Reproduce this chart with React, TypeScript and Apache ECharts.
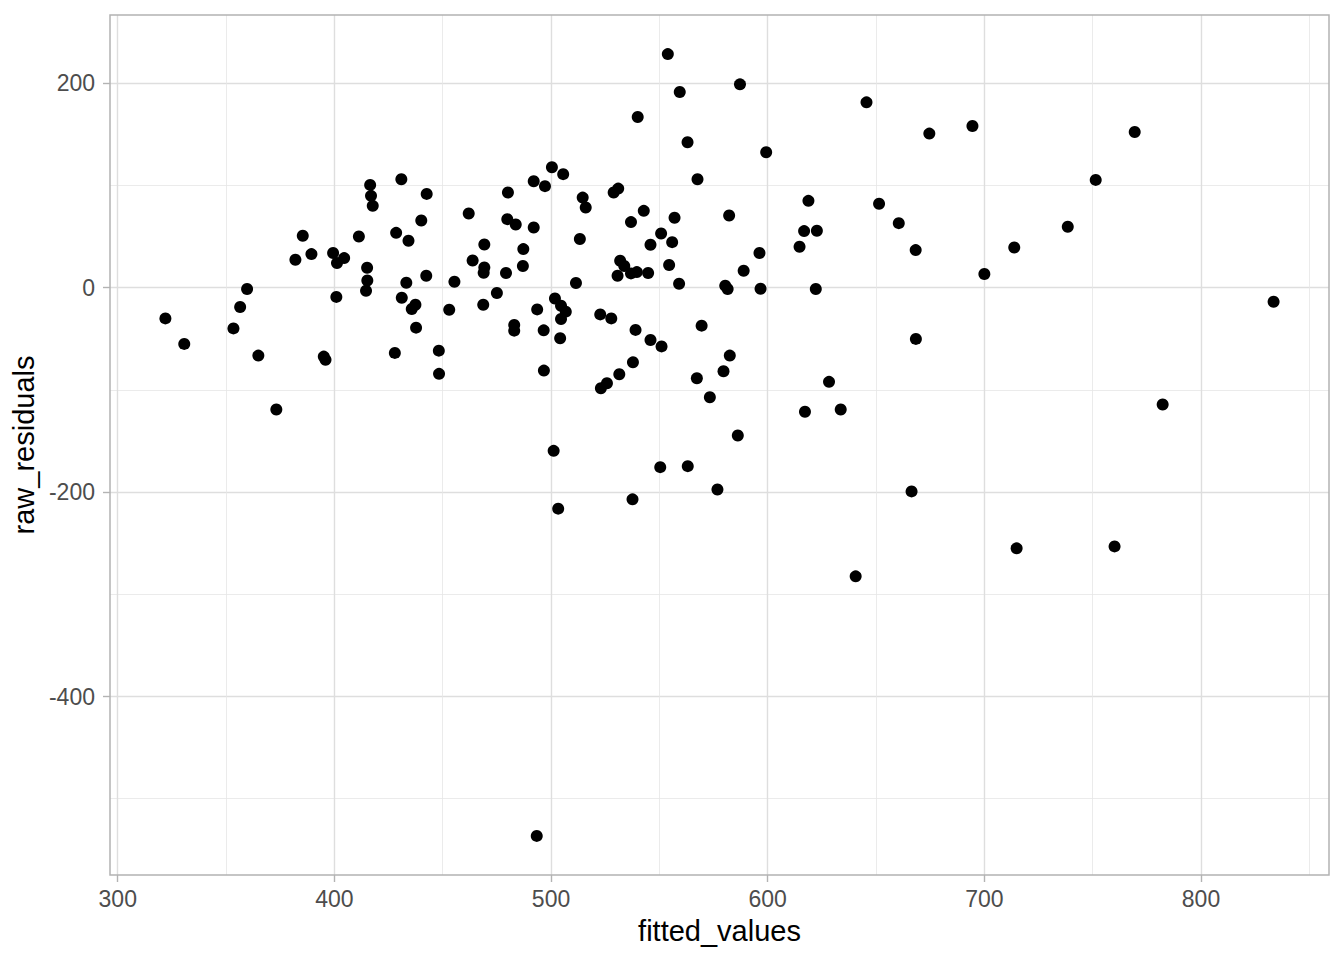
import React, { useEffect, useRef } from "react";
import * as echarts from "echarts";

const fittedValues = [
  322.0, 330.7, 353.4, 356.5, 359.7, 364.9, 373.2, 382.0, 385.4, 389.4,
  395.1, 395.9, 399.4, 400.9, 401.2, 404.5, 411.3, 414.6, 415.1, 415.2,
  416.5, 416.9, 417.7, 427.9, 428.5, 430.9, 431.1, 433.2, 434.2, 435.7,
  437.4, 437.7, 440.1, 442.4, 442.6, 448.2, 448.3, 453.0, 455.4, 462.0,
  463.8, 468.7, 469.2, 469.2, 468.9, 475.0, 479.2, 480.1, 479.8, 483.7,
  483.0, 483.0, 487.0, 487.2, 492.0, 492.0, 493.6, 493.4, 496.6, 496.7,
  497.2, 500.4, 501.2, 501.8, 503.3, 504.6, 504.2, 504.6, 505.6, 506.8,
  511.5, 513.3, 514.6, 516.0, 522.7, 523.0, 525.8, 527.8, 528.9, 531.0,
  530.7, 531.5, 531.9, 533.8, 536.9, 536.9, 537.6, 537.8, 539.0, 539.6,
  540.0, 542.8, 544.8, 545.9, 545.9, 550.4, 550.8, 551.0, 553.9, 554.5,
  555.9, 557.0, 559.1, 559.4, 563.0, 563.1, 567.3, 567.6, 569.5, 573.3,
  576.8, 579.6, 580.4, 581.5, 582.2, 582.5, 586.2, 587.2, 588.9, 596.2,
  596.7, 599.3, 614.7, 616.8, 617.2, 618.8, 622.2, 622.7, 628.3, 633.7,
  640.6, 645.6, 651.4, 660.5, 666.4, 668.3, 668.4, 674.6, 694.5, 700.0,
  713.8, 714.9, 738.5, 751.4, 760.1, 769.4, 782.3, 833.5,
];

const rawResiduals = [
  -30.0, -55.0, -39.8, -18.9, -1.3, -66.4, -119.2, 27.4, 50.8, 32.9,
  -67.4, -70.6, 33.9, -9.0, 24.1, 29.0, 50.1, -2.9, 19.5, 7.1,
  100.6, 89.9, 80.1, -63.8, 53.7, 106.2, -9.8, 4.8, 45.9, -20.8,
  -16.6, -39.1, 65.8, 11.7, 91.8, -61.6, -84.3, -21.5, 5.9, 72.6,
  26.7, -16.6, 42.3, 19.8, 14.7, -5.2, 14.4, 93.1, 67.1, 61.9,
  -36.4, -42.0, 21.2, 37.8, 104.2, 58.9, -21.2, -536.4, -41.7, -81.1,
  99.4, 117.9, -159.6, -10.6, -216.2, -17.6, -49.5, -30.6, 111.1, -23.4,
  4.6, 47.6, 88.2, 78.5, -26.1, -98.4, -93.5, -30.0, 93.1, 97.0,
  11.7, -84.7, 26.4, 21.2, 64.2, 14.0, -207.1, -73.0, -41.3, 15.3,
  167.1, 75.2, 14.4, 42.0, -51.1, -175.6, 53.1, -57.4, 228.6, 22.2,
  44.6, 68.4, 3.9, 191.5, 142.3, -174.6, -88.6, 106.2, -37.1, -107.2,
  -197.4, -81.8, 2.0, -1.3, 70.6, -66.4, -144.6, 199.0, 16.6, 33.9,
  -1.0, 132.6, 40.1, 55.4, -121.4, 85.0, -1.3, 55.7, -92.1, -119.2,
  -282.4, 181.4, 82.1, 63.2, -199.3, 36.8, -50.1, 150.8, 158.3, 13.4,
  39.4, -255.0, 59.6, 105.5, -253.1, 152.4, -114.3, -13.7,
];

const xTicks = [300, 400, 500, 600, 700, 800];
const yTicks = [-400, -200, 0, 200];
const xTitle = "fitted_values";
const yTitle = "raw_residuals";

function expandRange(v: number[]): [number, number] {
  const lo = Math.min(...v);
  const hi = Math.max(...v);
  const pad = (hi - lo) * 0.05;
  return [lo - pad, hi + pad];
}

export default function App() {
  const ref = useRef<HTMLDivElement>(null);
  useEffect(() => {
    if (!ref.current) return;
    const chart = echarts.init(ref.current, null, { renderer: "svg" });
    const [xMin, xMax] = expandRange(fittedValues);
    const [yMin, yMax] = expandRange(rawResiduals);
    const font = "'Liberation Sans', Arial, Helvetica, sans-serif";
    const axisCommon = {
      type: "value",
      nameLocation: "middle",
      nameTextStyle: { color: "#000000", fontSize: 29, fontFamily: font },
      axisLine: { show: false, onZero: false },
      splitLine: { show: true, lineStyle: { color: "#dedede", width: 1.4 } },
      minorTick: { show: false, splitNumber: 2 },
      minorSplitLine: { show: true, lineStyle: { color: "#e6e6e6", width: 0.8 } },
    };
    chart.setOption({
      animation: false,
      backgroundColor: "#ffffff",
      grid: {
        left: 110,
        right: 15,
        top: 15,
        bottom: 85,
        show: true,
        borderColor: "#b3b3b3",
        borderWidth: 1.5,
        backgroundColor: "transparent",
        z: 3,
      },
      xAxis: {
        ...axisCommon,
        min: xMin,
        max: xMax,
        name: xTitle,
        nameGap: 41,
        axisTick: {
          show: true,
          length: 7,
          customValues: xTicks,
          lineStyle: { color: "#b3b3b3", width: 1.4 },
        },
        axisLabel: {
          customValues: xTicks,
          color: "#4d4d4d",
          fontSize: 23,
          fontFamily: font,
          margin: 12,
        },
      },
      yAxis: {
        ...axisCommon,
        min: yMin,
        max: yMax,
        name: yTitle,
        nameGap: 60,
        axisTick: {
          show: true,
          length: 7,
          customValues: yTicks,
          lineStyle: { color: "#b3b3b3", width: 1.4 },
        },
        axisLabel: {
          customValues: yTicks,
          color: "#4d4d4d",
          fontSize: 23,
          fontFamily: font,
          margin: 15,
        },
      },
      series: [
        {
          type: "scatter",
          data: fittedValues.map((x, i) => [x, rawResiduals[i]]),
          symbol: "circle",
          symbolSize: 12,
          itemStyle: { color: "#000000", opacity: 1 },
          silent: true,
          z: 5,
        },
      ],
    });
    return () => chart.dispose();
  }, []);
  return (
    <div
      ref={ref}
      style={{ position: "fixed", left: 0, top: 0, width: 1344, height: 960, background: "#ffffff" }}
    />
  );
}
